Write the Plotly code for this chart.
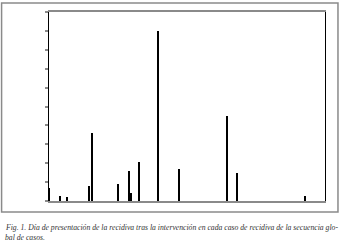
import plotly.graph_objects as go

# Case position in the global sequence (axis scale 0-100) and day of recurrence (scale 0-100)
cases = [0.2, 3.9, 6.6, 14.4, 15.5, 25.2, 29.2, 29.6, 32.8, 39.7, 47.3, 64.7, 68.0, 92.9]
days = [7.0, 2.5, 2.2, 7.7, 36.0, 8.9, 16.1, 4.2, 20.8, 90.2, 17.1, 44.9, 15.0, 2.6]

caption_1 = "Fig. 1. Día de presentación de la recidiva tras la intervención en cada caso de recidiva de la secuencia glo-"
caption_2 = "bal de casos."

W, H = 340, 247
L, R, T, B = 48.5, 325, 10, 201

fig = go.Figure()
fig.add_trace(go.Bar(x=cases, y=days, width=0.45, marker=dict(color="black", line=dict(width=0)),
                     hoverinfo="x+y"))

def px(x):
    return (x - L) / (R - L)

def py(y):
    return (B - y) / (B - T)

fig.update_layout(
    width=W, height=H,
    margin=dict(l=L, r=W - R, t=T, b=H - B, pad=0),
    paper_bgcolor="white", plot_bgcolor="white",
    showlegend=False,
    bargap=0,
    xaxis=dict(range=[0, 100], showgrid=False, zeroline=False, showticklabels=False,
               ticks="", showline=True, mirror=True, linecolor="#8a8a8a", linewidth=2),
    yaxis=dict(range=[0, 100], dtick=10, showgrid=False, zeroline=False, showticklabels=False,
               ticks="outside", ticklen=3, tickwidth=2, tickcolor="#8a8a8a",
               showline=True, mirror=True, linecolor="black", linewidth=1),
    shapes=[dict(type="rect", xref="paper", yref="paper",
                 x0=px(1), x1=px(338), y0=py(212), y1=py(1),
                 line=dict(color="#8a8a8a", width=1.5), fillcolor="rgba(0,0,0,0)", layer="below")],
    annotations=[
        dict(text="<i>" + caption_1 + "</i>", xref="paper", yref="paper", x=px(2), y=py(228),
             xanchor="left", yanchor="middle", showarrow=False,
             font=dict(family="Liberation Serif", size=7.7, color="#333333")),
        dict(text="<i>" + caption_2 + "</i>", xref="paper", yref="paper", x=px(2), y=py(238),
             xanchor="left", yanchor="middle", showarrow=False,
             font=dict(family="Liberation Serif", size=7.7, color="#333333")),
    ],
)

fig.write_html("out.html", config={"displayModeBar": False},
               post_script="document.body.style.margin='0';document.body.style.overflow='hidden';")
